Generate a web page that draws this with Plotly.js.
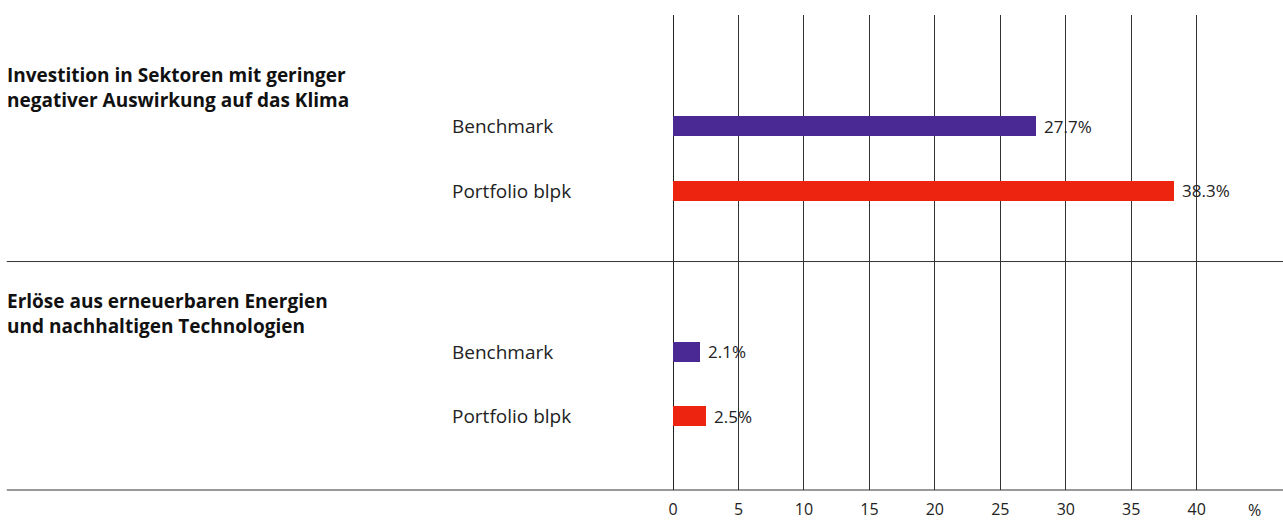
<!DOCTYPE html>
<html>
<head>
<meta charset="utf-8">
<script src="https://cdn.plot.ly/plotly-3.0.1.min.js"></script>
<style>
  html, body { margin: 0; padding: 0; background: #fff; }
  #chart { width: 1283px; height: 524px; }
</style>
</head>
<body>
<div id="chart"></div>
<script>
// data
const groups = [
  'Investition in Sektoren mit geringer<br>negativer Auswirkung auf das Klima',
  'Erlöse aus erneuerbaren Energien<br>und nachhaltigen Technologien'
];
const series = ['Benchmark', 'Portfolio blpk'];
const benchmark = [27.7, 2.1];
const portfolio = [38.3, 2.5];
const xTicks = [0, 5, 10, 15, 20, 25, 30, 35, 40];
const unit = '%';

const colors = ['#4b2995', '#ec2410'];
const font = '"Open Sans", Lato, sans-serif';

// row position: each group takes 3.5 rows
const rowPos = (g, i) => g * 3.5 + i;

const traces = [benchmark, portfolio].map((vals, i) => ({
  type: 'bar',
  orientation: 'h',
  x: vals,
  y: vals.map((v, g) => rowPos(g, i)),
  width: 0.31,
  marker: { color: colors[i] },
  hoverinfo: 'skip',
  showlegend: false
}));

const annotations = [];
const shapes = [];
groups.forEach((name, g) => {
  annotations.push({
    xref: 'paper', yref: 'y', x: -1.273, y: rowPos(g, 0) - 0.6,
    xanchor: 'left', yanchor: 'middle', align: 'left', showarrow: false,
    text: '<b>' + name + '</b>', font: { family: font, size: 19, color: '#111' }
  });
  [benchmark, portfolio].forEach((vals, i) => {
    annotations.push({
      xref: 'paper', yref: 'y', x: -0.425, y: rowPos(g, i),
      xanchor: 'left', yanchor: 'middle', showarrow: false,
      text: series[i], font: { family: font, size: 19, color: '#222' }
    });
    annotations.push({
      xref: 'x', yref: 'y', x: vals[g], y: rowPos(g, i),
      xanchor: 'left', yanchor: 'middle', xshift: 6, showarrow: false,
      text: vals[g] + '%', font: { family: font, size: 17, color: '#222' }
    });
  });
});
annotations.push({
  xref: 'paper', yref: 'paper', x: 1.107, y: 0, yshift: -20,
  xanchor: 'center', yanchor: 'middle', showarrow: false,
  text: unit, font: { family: font, size: 16, color: '#222' }
});

// separator between groups and bottom rule
shapes.push({
  type: 'line', xref: 'paper', yref: 'y', x0: -1.269, x1: 1.164, y0: 2.1, y1: 2.1,
  line: { color: '#333', width: 1 }
});
shapes.push({
  type: 'line', xref: 'paper', yref: 'paper', x0: -1.269, x1: 1.164, y0: 0, y1: 0,
  line: { color: '#333', width: 1 }
});

const layout = {
  width: 1283, height: 524,
  margin: { l: 673, r: 85, t: 15, b: 34 },
  paper_bgcolor: '#fff', plot_bgcolor: '#fff',
  font: { family: font, color: '#222' },
  xaxis: {
    range: [0, 40.1], tickvals: xTicks, ticktext: xTicks.map(String),
    showgrid: true, gridcolor: '#333', gridwidth: 1,
    zeroline: true, zerolinecolor: '#222', zerolinewidth: 1,
    showline: false, ticks: '', ticklabelstandoff: 8,
    tickfont: { family: font, size: 16, color: '#222' }, fixedrange: true
  },
  yaxis: {
    range: [5.64, -1.72], showgrid: false, zeroline: false, showline: false,
    showticklabels: false, ticks: '', fixedrange: true
  },
  annotations, shapes,
  bargap: 0
};

Plotly.newPlot('chart', traces, layout, { displayModeBar: false, staticPlot: true });
</script>
</body>
</html>
